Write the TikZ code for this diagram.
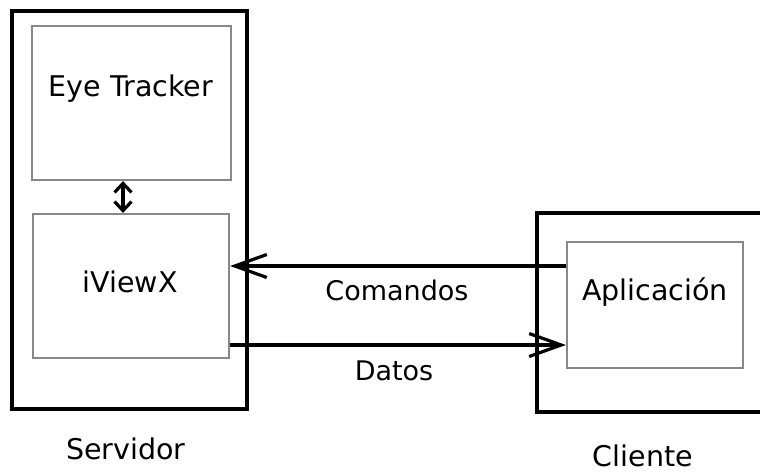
\documentclass[tikz,border=0pt]{standalone}
\usepackage{fontspec}
\setmainfont{DejaVu Sans}
\usetikzlibrary{arrows.meta}
\definecolor{boxgray}{HTML}{888888}
\begin{document}
\begin{tikzpicture}[x=1pt,y=-1pt,
  outerbox/.style={draw=black,line width=3.2pt},
  innerbox/.style={draw=boxgray,line width=2.2pt,fill=white},
  lbl/.style={inner sep=0pt,font=\fontsize{28.5}{32}\selectfont},
  smalllbl/.style={inner sep=0pt,font=\fontsize{27}{30}\selectfont},
  bigarrow/.style={line width=3.2pt,-{Straight Barb[length=32pt,width=23pt,line width=3.2pt]}},
  linkarrow/.style={line width=3.2pt,{Straight Barb[length=9pt,width=17pt]}-{Straight Barb[length=9pt,width=17pt]}}]
\useasboundingbox (0,0) rectangle (760,471);
% outer boxes
\node[outerbox,minimum width=235pt,minimum height=398pt,inner sep=0pt] (srv) at (129.5,210) {};
\coordinate (ctl) at (537,213);
\coordinate (cbl) at (537,412);
\draw[line width=3.2pt] (764,213) -- (ctl) -- (cbl) -- (764,412);
% inner boxes
\node[innerbox,minimum width=199pt,minimum height=154pt,inner sep=0pt] (eye) at (131.5,103) {};
\node[lbl] (eyet) at (131,89) {Eye Tracker};
\node[innerbox,minimum width=196pt,minimum height=144pt,inner sep=0pt] (iv) at (131,286) {};
\node[lbl] (ivt) at (130,282) {iViewX};
\node[innerbox,minimum width=176pt,minimum height=126pt,inner sep=0pt] (app) at (655,305) {};
\node[lbl] (appt) at (655,292) {Aplicación};
% connectors
\draw[linkarrow] (eye.south -| 123,0) -- (iv.north -| 123,0);
\coordinate (c1) at (app.west |- 0,266);
\coordinate (c2) at (iv.east |- 0,266);
\draw[bigarrow] (c1) -- (c2);
\coordinate (d1) at (iv.east |- 0,345);
\coordinate (d2) at (app.west |- 0,345);
\draw[bigarrow] (d1) -- (d2);
\node[smalllbl] (com) at (397,290) {Comandos};
\node[smalllbl] (dat) at (394,371) {Datos};
\node[lbl] (srvt) at (126,449) {Servidor};
\node[lbl] (clit) at (643,455.5) {Cliente};
\end{tikzpicture}
\end{document}
